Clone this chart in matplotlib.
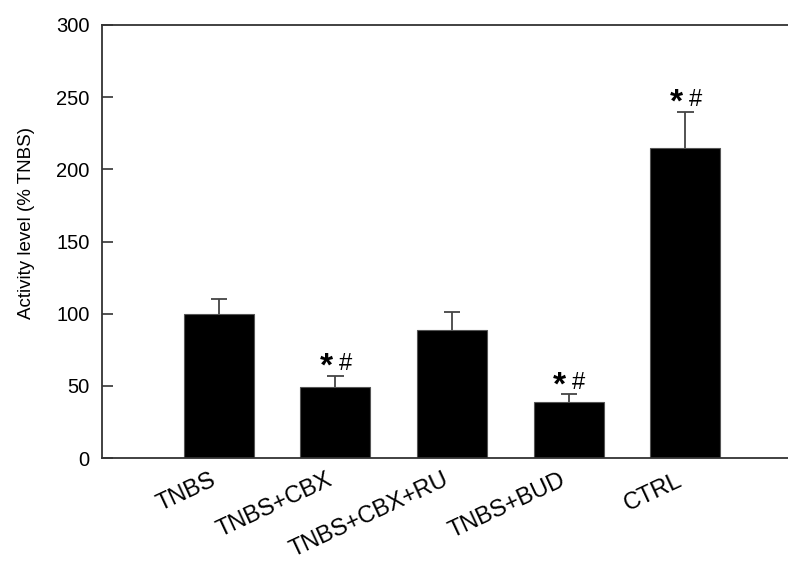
import numpy as np
from matplotlib import pyplot as plt
from matplotlib.transforms import ScaledTranslation

plt.rcParams['font.family'] = ['Liberation Sans', 'DejaVu Sans']

groups = ["TNBS", "TNBS+CBX", "TNBS+CBX+RU", "TNBS+BUD", "CTRL"]
means = [100, 49, 89, 39, 215]
errs = [10, 8, 12, 5, 25]
marks = [False, True, False, True, True]

fig = plt.figure(figsize=(7.88, 5.62), dpi=100)
# axes runs a little past the right edge, like the original
ax = fig.add_axes([102/788, 1 - 458/562, 700/788, 433/562])

x = np.arange(1, len(groups) + 1)
tops = np.array(means) + np.array(errs)
ax.bar(x, means, width=0.6, color="black", edgecolor="#555555", linewidth=0.8, zorder=2)
# upper error bars only
ax.vlines(x, means, tops, color="#444444", linewidth=1.3, zorder=1)
ax.hlines(tops, x - 0.07, x + 0.07, color="#444444", linewidth=1.3, zorder=1)

for xi, t, m in zip(x, tops, marks):
  if not m:
    continue
  ax.text(xi - 0.075, t + 6, "*", ha="center", va="center", fontsize=24, fontweight="bold")
  ax.text(xi + 0.085, t + 8, "#", ha="center", va="center", fontsize=17)

ax.set_xlim(0, 6)
ax.set_ylim(0, 300)
ax.set_yticks(np.arange(0, 301, 50))
ax.tick_params(axis="y", direction="in", length=8, width=1.2, color="#333333",
               labelsize=14.5, pad=9)
ax.set_xticks(x)
ax.set_xticklabels(groups, rotation=25, ha="right", rotation_mode="anchor", fontsize=17)
ax.tick_params(axis="x", length=0, pad=8)
shift = ScaledTranslation(-9/100, 0, fig.dpi_scale_trans)
for lab in ax.get_xticklabels():
  lab.set_transform(lab.get_transform() + shift)

ax.set_ylabel("Activity level (% TNBS)", fontsize=13.5)
ax.yaxis.set_label_coords(-0.096, 0.543)

ax.spines["right"].set_visible(False)
for sp in ["left", "top", "bottom"]:
  ax.spines[sp].set_linewidth(1.3)
  ax.spines[sp].set_color("#333333")

fig.savefig("out.png", dpi=100)
